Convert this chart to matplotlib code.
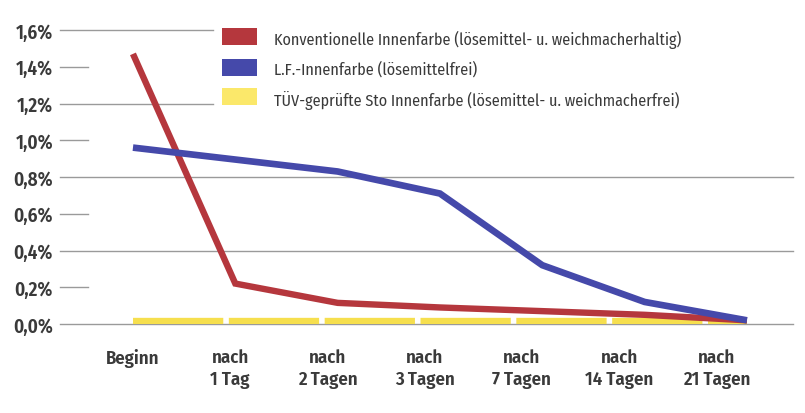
import matplotlib
matplotlib.use("Agg")
import matplotlib.pyplot as plt
from matplotlib.patches import Rectangle

plt.rcParams["lines.scale_dashes"] = False

# ---- data ----
categories = ["Beginn", "nach\n1 Tag", "nach\n2 Tagen", "nach\n3 Tagen",
              "nach\n7 Tagen", "nach\n14 Tagen", "nach\n21 Tagen"]
konventionell = [1.47, 0.22, 0.115, 0.09, 0.07, 0.05, 0.02]
lf_innenfarbe = [0.96, 0.895, 0.83, 0.71, 0.32, 0.12, 0.02]
tuev_sto = [0.01, 0.01, 0.01, 0.01, 0.01, 0.01, 0.01]
series_names = ["Konventionelle Innenfarbe (lösemittel- u. weichmacherhaltig)",
                "L.F.-Innenfarbe (lösemittelfrei)",
                "TÜV-geprüfte Sto Innenfarbe (lösemittel- u. weichmacherfrei)"]
yticks = [0.0, 0.2, 0.4, 0.6, 0.8, 1.0, 1.2, 1.4, 1.6]
ytick_labels = ["0,0%", "0,2%", "0,4%", "0,6%", "0,8%", "1,0%", "1,2%", "1,4%", "1,6%"]

# ---- style ----
RED = "#b5373d"
BLUE = "#4549aa"
YELLOW = "#f6df4e"
TEXT = "#3a3a3a"
GRID = "#9a9a9a"
FONT = ["Fira Sans Condensed", "Asap SemiCondensed", "Barlow Semi Condensed",
        "DejaVu Sans"]

W, H = 805, 414
fig = plt.figure(figsize=(W / 100, H / 100), dpi=100)
fig.patch.set_facecolor("white")

ax = fig.add_axes([60 / W, (H - 325) / H, 733 / W, (325 - 31) / H])
ax.set_xlim(-0.713, 6.45)
ax.set_ylim(0, 1.6)
for s in ax.spines.values():
    s.set_visible(False)

# gridlines / tick stubs
long_lines = {1.6: 0.209, 1.2: 0.209, 0.8: 1.0, 0.4: 1.0, 0.0: 1.0}
for v in yticks:
    xm = long_lines.get(round(v, 1), 0.038)
    ax.axhline(v, xmin=0, xmax=xm, color=GRID, lw=1.0, zorder=1, clip_on=False)

x = list(range(len(categories)))
ax.plot(x, tuev_sto, color=YELLOW, lw=6.0, solid_capstyle="butt",
        dash_capstyle="butt", dashes=(65, 4.0), zorder=2)
ax.plot(x, konventionell, color=RED, lw=4.6, solid_joinstyle="miter",
        solid_capstyle="butt", zorder=3, clip_on=False)
ax.plot(x, lf_innenfarbe, color=BLUE, lw=4.8, solid_joinstyle="miter",
        solid_capstyle="butt", zorder=4, clip_on=False)

ax.set_yticks(yticks)
ax.set_yticklabels(ytick_labels, fontfamily=FONT, fontsize=13.8,
                   fontweight="semibold", color=TEXT)
ax.set_xticks([i * 0.95 for i in x])
ax.set_xticklabels(categories, fontfamily=FONT, fontsize=13.5,
                   fontweight="semibold", color=TEXT, linespacing=1.3)
ax.tick_params(axis="y", length=0, pad=5)
ax.tick_params(axis="x", length=0, pad=17)

# legend
rect_y = [29, 60, 89]
text_y = [40, 70, 101]
colors = [RED, BLUE, "#fbe86a"]
for name, c, ry, ty in zip(series_names, colors, rect_y, text_y):
    fig.add_artist(Rectangle((222 / W, 1 - (ry + 17) / H), 35 / W, 17 / H,
                             transform=fig.transFigure, facecolor=c,
                             edgecolor="none"))
    fig.text(274 / W, 1 - ty / H, name, fontfamily=FONT, fontsize=11.6,
             color=TEXT, va="center", ha="left")

fig.savefig("out.png", dpi=100, facecolor="white")
